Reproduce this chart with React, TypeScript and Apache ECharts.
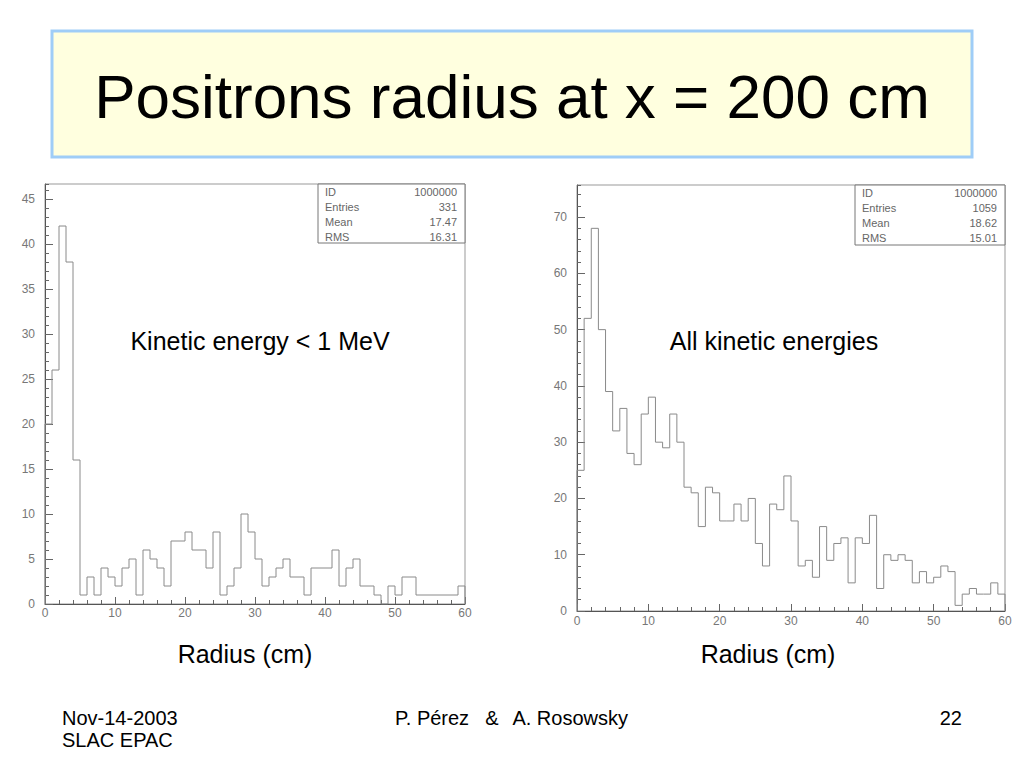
import React, { useEffect, useRef } from "react";
import * as echarts from "echarts";

// ---- data ----
const binCount = 60;
const lowEnergyCounts = [
  20, 26, 42, 38, 16, 1, 3, 1, 4, 3,
  2, 4, 5, 1, 6, 5, 4, 2, 7, 7,
  8, 6, 6, 4, 8, 1, 2, 4, 10, 8,
  5, 2, 3, 4, 5, 3, 3, 1, 4, 4,
  4, 6, 2, 4, 5, 2, 2, 1, 0, 2,
  1, 3, 3, 1, 1, 1, 1, 1, 1, 2,
];
const allEnergyCounts = [
  25, 52, 68, 50, 39, 32, 36, 28, 26, 35,
  38, 30, 29, 35, 30, 22, 21, 15, 22, 21,
  16, 16, 19, 16, 20, 12, 8, 19, 18, 24,
  16, 8, 9, 6, 15, 9, 12, 13, 5, 13,
  12, 17, 4, 10, 9, 10, 9, 5, 7, 5,
  6, 8, 7, 1, 3, 4, 3, 3, 5, 3,
];
const statLabels = ["ID", "Entries", "Mean", "RMS"];
const lowEnergyStats = ["1000000", "331", "17.47", "16.31"];
const allEnergyStats = ["1000000", "1059", "18.62", "15.01"];
const lowEnergyYMax = 46.67;
const allEnergyYMax = 75.7;

const FONT = '"Liberation Sans", Arial, Helvetica, sans-serif';
const TICK_COLOR = "#666";
const LABEL_COLOR = "#777";
const HIST_COLOR = "#8a8a8a";

function toSteps(counts: number[]) {
  const pts: number[][] = [[0, 0]];
  counts.forEach((c, i) => pts.push([i, c]));
  pts.push([binCount, counts[counts.length - 1]]);
  pts.push([binCount, 0]);
  return pts;
}

function xAxisCfg(gridIndex: number, margin: number) {
  return {
    gridIndex,
    type: "value",
    min: 0,
    max: binCount,
    interval: 10,
    axisLine: { show: true, lineStyle: { color: "#555", width: 1 } },
    axisTick: { show: true, inside: true, length: 7, lineStyle: { color: TICK_COLOR } },
    minorTick: { show: true, splitNumber: 5, length: 4, lineStyle: { color: TICK_COLOR } },
    splitLine: { show: false },
    minorSplitLine: { show: false },
    axisLabel: { color: LABEL_COLOR, fontSize: 12, fontFamily: FONT, margin },
  };
}

function yAxisMajor(gridIndex: number, max: number, interval: number) {
  return {
    gridIndex,
    type: "value",
    position: "left",
    min: 0,
    max,
    interval,
    axisLine: { show: true, lineStyle: { color: "#555", width: 1 } },
    axisTick: { show: true, inside: true, length: 8, lineStyle: { color: TICK_COLOR } },
    splitLine: { show: false },
    axisLabel: {
      color: LABEL_COLOR,
      fontSize: 12,
      fontFamily: FONT,
      margin: 10,
      showMaxLabel: false,
      formatter: (v: number) => (Math.abs(v % interval) < 1e-6 ? String(v) : ""),
    },
  };
}

function yAxisMinor(gridIndex: number, max: number, interval: number) {
  return {
    gridIndex,
    type: "value",
    position: "left",
    min: 0,
    max,
    interval,
    axisLine: { show: false },
    axisTick: { show: true, inside: true, length: 4, lineStyle: { color: TICK_COLOR } },
    splitLine: { show: false },
    axisLabel: { show: false },
  };
}

function statsBox(x: number, y: number, w: number, h: number, values: string[]) {
  const children: any[] = [
    {
      type: "rect",
      shape: { x, y, width: w, height: h },
      style: { fill: "#fff", stroke: "#777", lineWidth: 1 },
    },
  ];
  statLabels.forEach((lab, i) => {
    const ty = y + 8 + i * 15;
    children.push({
      type: "text",
      style: { text: lab, x: x + 7, y: ty, fill: "#666", fontSize: 11, fontFamily: FONT, align: "left", verticalAlign: "middle" },
    });
    children.push({
      type: "text",
      style: { text: values[i], x: x + w - 8, y: ty, fill: "#666", fontSize: 11, fontFamily: FONT, align: "right", verticalAlign: "middle" },
    });
  });
  return { type: "group", children };
}

function txt(text: string, x: number, y: number, size: number, align = "center", fill = "#000") {
  return {
    type: "text",
    style: { text, x, y, fill, fontSize: size, fontFamily: FONT, align, verticalAlign: "middle" },
  };
}

export default function App() {
  const ref = useRef<HTMLDivElement>(null);
  useEffect(() => {
    if (!ref.current) return;
    const chart = echarts.init(ref.current, undefined, { renderer: "svg" });
    chart.setOption({
      animation: false,
      backgroundColor: "#fff",
      grid: [
        { left: 45, top: 184, width: 420, height: 420, show: true, borderColor: "#999", borderWidth: 1, backgroundColor: "transparent" },
        { left: 577, top: 185, width: 428, height: 426, show: true, borderColor: "#999", borderWidth: 1, backgroundColor: "transparent" },
      ],
      xAxis: [xAxisCfg(0, 3), xAxisCfg(1, 4)],
      yAxis: [
        yAxisMajor(0, lowEnergyYMax, 5),
        yAxisMinor(0, lowEnergyYMax, 1),
        yAxisMajor(1, allEnergyYMax, 10),
        yAxisMinor(1, allEnergyYMax, 2),
      ],
      series: [
        {
          type: "line",
          name: "Kinetic energy < 1 MeV",
          xAxisIndex: 0,
          yAxisIndex: 0,
          step: "end",
          symbol: "none",
          data: toSteps(lowEnergyCounts),
          lineStyle: { color: HIST_COLOR, width: 1 },
        },
        {
          type: "line",
          name: "All kinetic energies",
          xAxisIndex: 1,
          yAxisIndex: 2,
          step: "end",
          symbol: "none",
          data: toSteps(allEnergyCounts),
          lineStyle: { color: HIST_COLOR, width: 1 },
        },
      ],
      graphic: [
        {
          type: "rect",
          shape: { x: 52, y: 31, width: 920, height: 126 },
          style: { fill: "#ffffdf", stroke: "#9fcdf7", lineWidth: 3 },
        },
        txt("Positrons radius at x = 200 cm", 512, 96, 62),
        txt("Kinetic energy < 1 MeV", 260, 341, 25),
        txt("All kinetic energies", 774, 341, 25),
        txt("Radius (cm)", 245, 654, 25),
        txt("Radius (cm)", 768, 654, 25),
        statsBox(318, 184, 147, 59, lowEnergyStats),
        statsBox(855, 185, 150, 60, allEnergyStats),
        txt("Nov-14-2003", 62, 718, 20, "left"),
        txt("SLAC EPAC", 62, 740, 20, "left"),
        txt("P. Pérez", 395, 718, 20, "left"),
        txt("&", 492, 718, 20, "center"),
        txt("A. Rosowsky", 628, 718, 20, "right"),
        txt("22", 962, 718, 20, "right"),
      ],
    });
    return () => chart.dispose();
  }, []);
  return (
    <div
      ref={ref}
      style={{ position: "absolute", left: 0, top: 0, width: 1024, height: 768, background: "#fff" }}
    />
  );
}
